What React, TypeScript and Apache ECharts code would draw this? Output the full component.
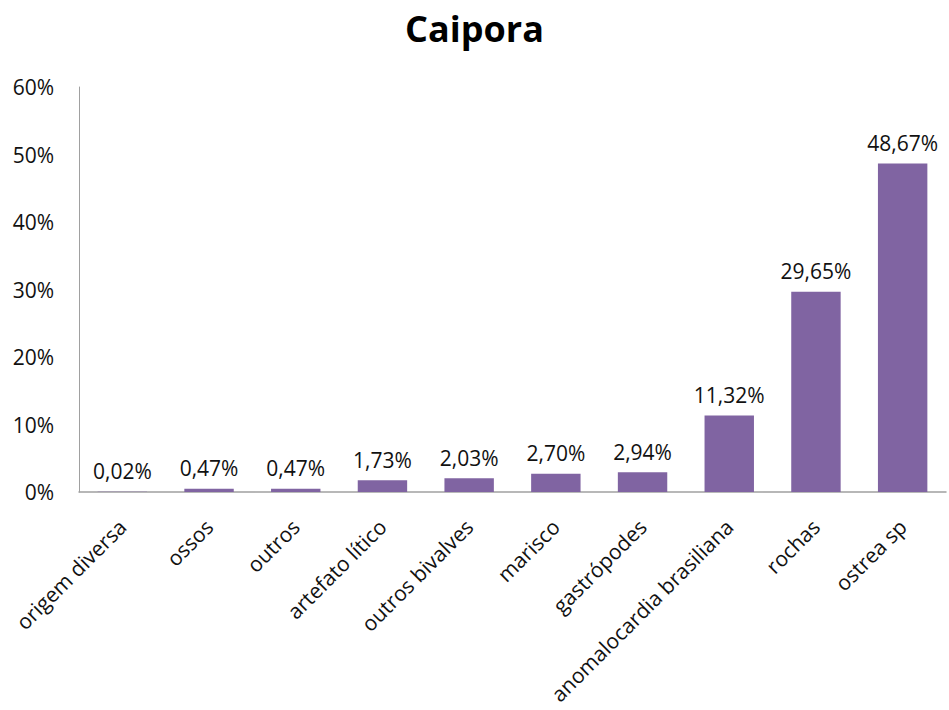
import React, { useEffect, useRef } from "react";
import * as echarts from "echarts";

const categories = [
  "origem diversa",
  "ossos",
  "outros",
  "artefato lítico",
  "outros bivalves",
  "marisco",
  "gastrópodes",
  "anomalocardia brasiliana",
  "rochas",
  "ostrea sp",
];
const values = [0.02, 0.47, 0.47, 1.73, 2.03, 2.7, 2.94, 11.32, 29.65, 48.67];
const yTicks = [0, 10, 20, 30, 40, 50, 60];

const FONT = "'Open Sans', 'Noto Sans', sans-serif";

export default function App() {
  const ref = useRef<HTMLDivElement>(null);
  useEffect(() => {
    const chart = echarts.init(ref.current!, null, { renderer: "svg" });
    chart.setOption({
      animation: false,
      title: {
        text: "Caipora",
        left: "center",
        top: 5,
        textStyle: { fontFamily: FONT, fontSize: 36, fontWeight: "bold", color: "#000" },
      },
      grid: {
        left: 79,
        right: 3,
        top: 87,
        bottom: 218,
        containLabel: false,
        outerBoundsMode: "none",
      },
      xAxis: {
        type: "category",
        data: categories,
        axisLine: { lineStyle: { color: "#a0a0a0", width: 1.5 } },
        axisTick: { show: false },
        axisLabel: {
          rotate: 45,
          interval: 0,
          fontFamily: FONT,
          fontSize: 21,
          color: "#111",
          margin: 31,
        },
      },
      yAxis: {
        type: "value",
        min: yTicks[0],
        max: yTicks[yTicks.length - 1],
        interval: 10,
        splitLine: { show: false },
        axisLine: { show: true, lineStyle: { color: "#a0a0a0", width: 1 } },
        axisTick: { show: false },
        axisLabel: {
          formatter: (v: number) => v + "%",
          fontFamily: FONT,
          fontSize: 21,
          color: "#111",
          margin: 25,
        },
      },
      series: [
        {
          type: "bar",
          data: values,
          barWidth: "57%",
          itemStyle: { color: "#8064A2" },
          label: {
            show: true,
            position: "top",
            distance: 10,
            fontFamily: FONT,
            fontSize: 21,
            color: "#111",
            formatter: (p: any) => p.value.toFixed(2).replace(".", ",") + "%",
          },
        },
      ],
    });
    return () => chart.dispose();
  }, []);
  return <div ref={ref} style={{ width: 949, height: 710, position: "absolute", left: 0, top: 0 }} />;
}
